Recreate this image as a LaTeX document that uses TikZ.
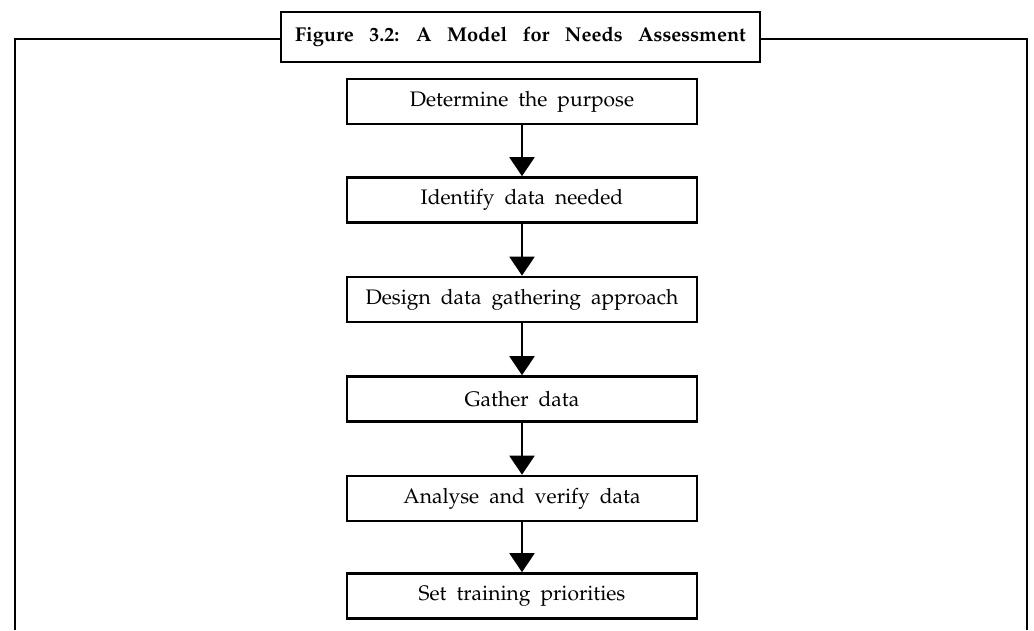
\documentclass[tikz,border=0pt]{standalone}
\usepackage[T1]{fontenc}
\usepackage{mathpazo}
\usetikzlibrary{arrows.meta}
\tikzset{
  stepbox/.style={draw, line width=2.6pt, minimum width=350pt, minimum height=45pt, inner sep=0pt, font=\fontsize{21}{25}\selectfont, execute at begin node={\spaceskip=10pt\relax}},
  titlebox/.style={draw, line width=2.6pt, minimum width=479pt, minimum height=50pt, inner sep=0pt, font=\fontsize{20}{24}\selectfont\bfseries, execute at begin node={\spaceskip=15.5pt\relax}},
  flow/.style={line width=2pt, -{Triangle[width=25pt,length=19pt]}},
  frame/.style={line width=2pt}
}
\begin{document}
\begin{tikzpicture}[x=1pt,y=-1pt]
\useasboundingbox (0,0) rectangle (1034,630);
\node[titlebox] (title) at (520.5,37) {Figure 3.2: A Model for Needs Assessment};
\coordinate (tl) at (15,39);
\coordinate (bl) at (15,630);
\coordinate (tr) at (1027,39);
\coordinate (br) at (1027,630);
\draw [frame](tl -| title.west) -- (tl) -- (bl);
\draw [frame](tr -| title.east) -- (tr) -- (br);
\node[stepbox] (purpose) at (522,101.5) {Determine the purpose};
\node[stepbox] (identify) at (522,200) {Identify data needed};
\node[stepbox] (design) at (522,299.5) {Design data gathering approach};
\node[stepbox] (gather) at (522,399) {Gather data};
\node[stepbox] (analyse) at (522,498.5) {Analyse and verify data};
\node[stepbox] (priorities) at (522,596) {Set training priorities};
\draw [flow](purpose) -- (identify);
\draw [flow](identify) -- (design);
\draw [flow](design) -- (gather);
\draw [flow](gather) -- (analyse);
\draw [flow](analyse) -- (priorities);
\end{tikzpicture}
\end{document}
